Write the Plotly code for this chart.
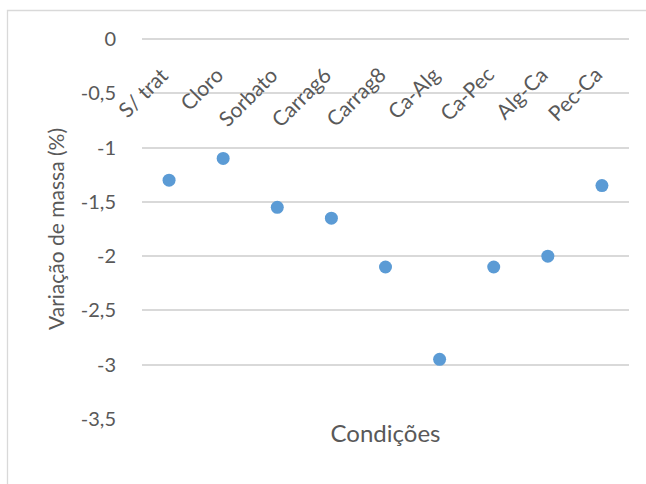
import plotly.graph_objects as go

# Mass variation (%) per treatment condition
condicoes = ["S/ trat", "Cloro", "Sorbato", "Carrag6", "Carrag8",
             "Ca-Alg", "Ca-Pec", "Alg-Ca", "Pec-Ca"]
variacao = [-1.30, -1.10, -1.55, -1.65, -2.10, -2.95, -2.10, -2.00, -1.35]
y_ticks = [0, -0.5, -1, -1.5, -2, -2.5, -3, -3.5]
# decimal comma, plain hyphen for the sign
y_ticktext = [f"{v:g}".replace(".", ",") for v in y_ticks]

W, H = 646, 484
L, R, T, B = 142, 17, 39, 65
PW, PH = W - L - R, H - T - B

FONT = "Lato"
GREY = "#595959"
GRID = "#D9D9D9"

fig = go.Figure()
fig.add_trace(go.Scatter(
    x=condicoes, y=variacao, mode="markers",
    marker=dict(size=13, color="#5B9BD5"),
    showlegend=False, cliponaxis=False,
))

# Category labels sit just under the zero line, rotated
for c in condicoes:
    fig.add_annotation(
        x=c, y=1, xref="x", yref="paper",
        text=c, showarrow=False, textangle=-45,
        xanchor="right", yanchor="top", xshift=7, yshift=-20,
        font=dict(family=FONT, size=21, color=GREY),
    )

# Outer chart-area frame (left and top edges visible)
def px_to_paper_x(px):
    return (px - L) / PW

def px_to_paper_y(py):
    return 1 - (py - T) / PH

fig.add_shape(type="rect", xref="paper", yref="paper",
              x0=px_to_paper_x(7.5), x1=px_to_paper_x(W + 20),
              y0=px_to_paper_y(H + 20), y1=px_to_paper_y(10.5),
              line=dict(color=GRID, width=1.3), layer="below")

fig.update_layout(
    width=W, height=H,
    margin=dict(l=L, r=R, t=T, b=B),
    paper_bgcolor="white", plot_bgcolor="white",
    font=dict(family=FONT, color=GREY),
    xaxis=dict(
        type="category", range=[-0.5, len(condicoes) - 0.5],
        showticklabels=False, showgrid=False, zeroline=False, showline=False,
        ticks="",
        title=dict(text="Condições", standoff=6,
                   font=dict(family=FONT, size=24, color=GREY)),
    ),
    yaxis=dict(
        range=[-3.5, 0], tickvals=y_ticks, ticktext=y_ticktext,
        showgrid=True, gridcolor=GRID, gridwidth=1.5,
        zeroline=True, zerolinecolor=GRID, zerolinewidth=1.5,
        showline=False,
        ticks="outside", ticklen=21, tickcolor="rgba(0,0,0,0)",
        tickfont=dict(family=FONT, size=20, color=GREY),
        title=dict(text="Variação de massa (%)", standoff=10,
                   font=dict(family=FONT, size=21, color=GREY)),
    ),
)

fig.write_html("out.html")
